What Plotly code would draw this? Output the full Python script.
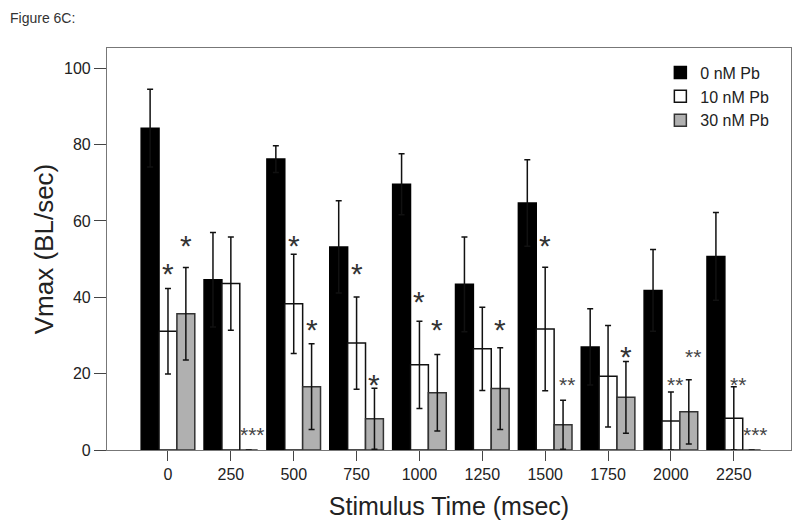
import plotly.graph_objects as go

groups = ["0", "250", "500", "750", "1000", "1250", "1500", "1750", "2000", "2250"]
series_names = ["0 nM Pb", "10 nM Pb", "30 nM Pb"]

black = [84.3, 44.6, 76.2, 53.2, 69.6, 43.4, 64.7, 27.0, 41.8, 50.7]
black_err = [10.2, 12.4, 3.5, 12.1, 8.0, 12.4, 11.3, 10.0, 10.7, 11.5]
white = [31.1, 43.6, 38.3, 28.0, 22.3, 26.5, 31.7, 19.3, 7.6, 8.3]
white_err = [11.2, 12.2, 13.0, 12.1, 11.4, 10.9, 16.2, 13.3, 7.6, 8.3]
gray = [35.7, 0, 16.6, 8.2, 15.0, 16.1, 6.6, 13.8, 10.0, 0]
gray_err = [12.1, None, 11.2, 8.0, 10.0, 10.7, 6.4, 9.4, 8.4, None]

# significance markers and the heights (data units) where they are printed
white_sig = ["*", "", "*", "*", "*", "", "*", "", "**", "**"]
white_sig_y = [47.5, None, 54.8, 47.7, 40.2, None, 54.8, None, 18.0, 18.0]
gray_sig = ["*", "***", "*", "*", "*", "*", "**", "*", "**", "***"]
gray_sig_y = [54.8, 4.8, 33.0, 18.4, 33.0, 33.0, 18.0, 25.8, 25.2, 4.8]

FONT = "Liberation Sans, Arial, Helvetica, sans-serif"
BARGAP = 0.147
BW = (1 - BARGAP) / 3

# page body adds an 8px margin; figure is sized so the plot lands where the reference has it
W, H = 792, 517
ML, MT, MR, MB = 99, 40, 9, 74.5
PW = W - ML - MR
PH = H - MT - MB

fig = go.Figure()
styles = [
    dict(fill="black", line="black"),
    dict(fill="white", line="#111111"),
    dict(fill="#b0b0b0", line="#333333"),
]
for name, vals, errs, st in zip(series_names, [black, white, gray],
                                [black_err, white_err, gray_err], styles):
    fig.add_trace(go.Bar(
        x=groups, y=vals, name=name,
        marker=dict(color=st["fill"], line=dict(color=st["line"], width=1.5)),
        error_y=dict(type="data", array=errs, visible=True, color="#111111",
                     thickness=1.5, width=3),
    ))

annotations = []
for offset, sigs, ys in [(0, white_sig, white_sig_y), (1, gray_sig, gray_sig_y)]:
    for i, (s, yv) in enumerate(zip(sigs, ys)):
        if not s:
            continue
        single = len(s) == 1
        size = 30 if single else 21
        annotations.append(dict(
            x=i + offset * BW, y=yv, xref="x", yref="y",
            text=s, showarrow=False,
            font=dict(family=FONT, size=size, color="#333333" if single else "#444444"),
            xanchor="center", yanchor="middle",
            xshift=0 if single else 4,
            yshift=-(0.17 if single else 0.13) * size,
        ))

annotations.append(dict(
    x=-ML / PW, y=1 + MT / PH, xref="paper", yref="paper", text="Figure 6C:",
    showarrow=False, xanchor="left", yanchor="top",
    font=dict(family=FONT, size=14, color="#333333"),
))

fig.update_layout(
    width=W, height=H,
    margin=dict(l=ML, r=MR, t=MT, b=MB, autoexpand=False),
    paper_bgcolor="white", plot_bgcolor="white",
    barmode="group", bargap=BARGAP, bargroupgap=0,
    font=dict(family=FONT, size=16, color="#222222"),
    showlegend=True,
    legend=dict(x=0.809, y=0.981, xanchor="left", yanchor="top",
                bgcolor="rgba(0,0,0,0)", font=dict(family=FONT, size=16, color="#222222")),
    annotations=annotations,
)
fig.update_xaxes(
    type="category", range=[-0.97, 9.91],
    showline=True, linecolor="#777777", linewidth=1.2, mirror=True,
    ticks="outside", ticklen=10, tickwidth=1.3, tickcolor="#444444",
    tickfont=dict(family=FONT, size=16, color="#222222"),
    showgrid=False, zeroline=False,
    title=dict(text="Stimulus Time (msec)", standoff=15,
               font=dict(family=FONT, size=25, color="#222222")),
)
fig.update_yaxes(
    range=[0, 105.3], tickvals=[0, 20, 40, 60, 80, 100],
    showline=True, linecolor="#777777", linewidth=1.2, mirror=True,
    ticks="outside", ticklen=12, tickwidth=1.3, tickcolor="#444444",
    tickfont=dict(family=FONT, size=16, color="#222222"),
    showgrid=False, zeroline=False,
    title=dict(text="Vmax (BL/sec)", standoff=2,
               font=dict(family=FONT, size=26, color="#222222")),
)

fig.write_html("out.html")
